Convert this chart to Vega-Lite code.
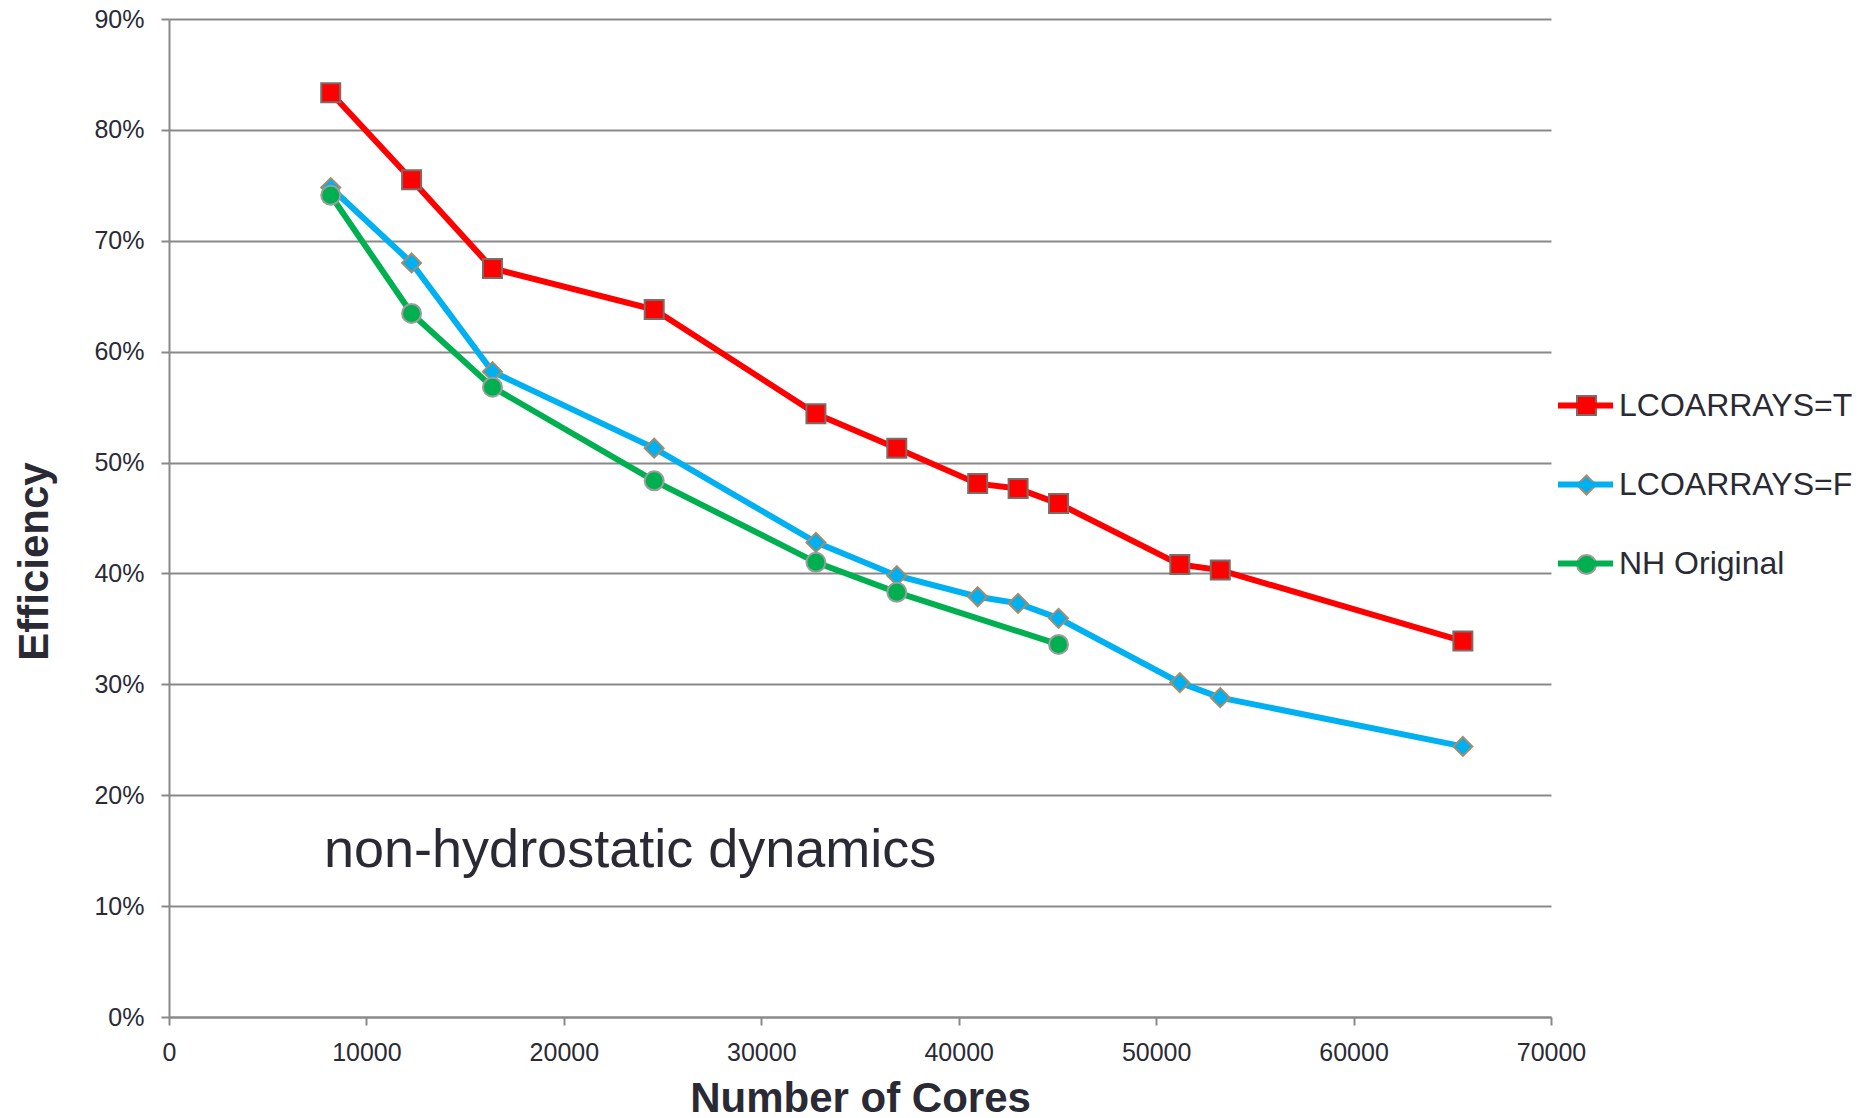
{
  "$schema": "https://vega.github.io/schema/vega-lite/v6.json",
  "width": 1382,
  "height": 998,
  "autosize": {"type": "none"},
  "padding": {"left": 169, "top": 19, "right": 311, "bottom": 101},
  "background": "white",
  "config": {"view": {"stroke": null}, "font": "Liberation Sans"},
  "data": {"values": [
    {"series": "LCOARRAYS=T", "cores": 8192, "eff": 0.8335},
    {"series": "LCOARRAYS=T", "cores": 12288, "eff": 0.755},
    {"series": "LCOARRAYS=T", "cores": 16384, "eff": 0.675},
    {"series": "LCOARRAYS=T", "cores": 24576, "eff": 0.638},
    {"series": "LCOARRAYS=T", "cores": 32768, "eff": 0.544},
    {"series": "LCOARRAYS=T", "cores": 36864, "eff": 0.513},
    {"series": "LCOARRAYS=T", "cores": 40960, "eff": 0.481},
    {"series": "LCOARRAYS=T", "cores": 43008, "eff": 0.4765},
    {"series": "LCOARRAYS=T", "cores": 45056, "eff": 0.463},
    {"series": "LCOARRAYS=T", "cores": 51200, "eff": 0.408},
    {"series": "LCOARRAYS=T", "cores": 53248, "eff": 0.403},
    {"series": "LCOARRAYS=T", "cores": 65536, "eff": 0.339},
    {"series": "LCOARRAYS=F", "cores": 8192, "eff": 0.748},
    {"series": "LCOARRAYS=F", "cores": 12288, "eff": 0.68},
    {"series": "LCOARRAYS=F", "cores": 16384, "eff": 0.582},
    {"series": "LCOARRAYS=F", "cores": 24576, "eff": 0.513},
    {"series": "LCOARRAYS=F", "cores": 32768, "eff": 0.428},
    {"series": "LCOARRAYS=F", "cores": 36864, "eff": 0.398},
    {"series": "LCOARRAYS=F", "cores": 40960, "eff": 0.379},
    {"series": "LCOARRAYS=F", "cores": 43008, "eff": 0.373},
    {"series": "LCOARRAYS=F", "cores": 45056, "eff": 0.3595},
    {"series": "LCOARRAYS=F", "cores": 51200, "eff": 0.3015},
    {"series": "LCOARRAYS=F", "cores": 53248, "eff": 0.288},
    {"series": "LCOARRAYS=F", "cores": 65536, "eff": 0.244},
    {"series": "NH Original", "cores": 8192, "eff": 0.741},
    {"series": "NH Original", "cores": 12288, "eff": 0.6345},
    {"series": "NH Original", "cores": 16384, "eff": 0.568},
    {"series": "NH Original", "cores": 24576, "eff": 0.4835},
    {"series": "NH Original", "cores": 32768, "eff": 0.41},
    {"series": "NH Original", "cores": 36864, "eff": 0.383},
    {"series": "NH Original", "cores": 45056, "eff": 0.336}
  ]},
  "layer": [
    {
      "mark": {"type": "line", "strokeWidth": 6},
      "encoding": {
        "x": {
          "field": "cores", "type": "quantitative",
          "scale": {"domain": [0, 70000], "nice": false},
          "axis": {
            "values": [0, 10000, 20000, 30000, 40000, 50000, 60000, 70000],
            "format": "d", "grid": false,
            "domainColor": "#898989", "domainWidth": 2,
            "tickColor": "#898989", "tickWidth": 2, "tickSize": 8,
            "labelFontSize": 25, "labelColor": "#2a2a35", "labelPadding": 15,
            "labelFont": "Liberation Sans", "labelFlush": false, "labelOverlap": false,
            "title": "Number of Cores", "titleFontSize": 42, "titleFontWeight": "bold",
            "titleColor": "#2a2a35", "titleFont": "Liberation Sans",
            "titleX": 691, "titleY": 94, "titleAlign": "center", "titleBaseline": "alphabetic"
          }
        },
        "y": {
          "field": "eff", "type": "quantitative",
          "scale": {"domain": [0, 0.9], "nice": false},
          "axis": {
            "values": [0, 0.1, 0.2, 0.3, 0.4, 0.5, 0.6, 0.7, 0.8, 0.9],
            "format": ".0%", "grid": true,
            "gridColor": "#898989", "gridWidth": 2,
            "domainColor": "#898989", "domainWidth": 2,
            "tickColor": "#898989", "tickWidth": 2, "tickSize": 8,
            "labelFontSize": 25, "labelColor": "#2a2a35", "labelPadding": 17,
            "labelFont": "Liberation Sans", "labelFlush": false, "labelOverlap": false,
            "title": "Efficiency", "titleFontSize": 42, "titleFontWeight": "bold",
            "titleColor": "#2a2a35", "titleFont": "Liberation Sans",
            "titleAngle": 270, "titleX": -122, "titleY": 542,
            "titleAlign": "center", "titleBaseline": "alphabetic"
          }
        },
        "stroke": {
          "field": "series", "type": "nominal",
          "scale": {"domain": ["LCOARRAYS=T", "LCOARRAYS=F", "NH Original"], "range": ["#ff0000", "#00b0f0", "#00b050"]},
          "legend": {
            "orient": "none", "legendX": 1386, "legendY": 356, "title": null,
            "symbolType": "stroke", "symbolSize": 3025, "symbolStrokeWidth": 6,
            "labelFontSize": 32, "labelColor": "#2a2a35", "labelFont": "Liberation Sans",
            "labelOffset": 3, "labelLimit": 400, "rowPadding": 32, "padding": 0
          }
        }
      }
    },
    {
      "mark": {"type": "point", "filled": true, "opacity": 1, "strokeWidth": 2, "size": 361},
      "encoding": {
        "x": {"field": "cores", "type": "quantitative"},
        "y": {"field": "eff", "type": "quantitative"},
        "fill": {
          "field": "series", "type": "nominal",
          "sort": ["LCOARRAYS=T", "LCOARRAYS=F", "NH Original"],
          "scale": {"range": ["#ff0000", "#00b0f0", "#00b050"]},
          "legend": null
        },
        "shape": {
          "field": "series", "type": "nominal",
          "sort": ["LCOARRAYS=T", "LCOARRAYS=F", "NH Original"],
          "scale": {"range": ["square", "diamond", "circle"]},
          "legend": {
            "orient": "none", "legendX": 1402, "legendY": 371, "title": null,
            "symbolSize": 361, "symbolStrokeWidth": 2,
            "symbolFillColor": {"expr": "datum.value === 'LCOARRAYS=T' ? '#ff0000' : datum.value === 'LCOARRAYS=F' ? '#00b0f0' : '#00b050'"},
            "symbolStrokeColor": {"expr": "datum.value === 'LCOARRAYS=T' ? '#7a6d68' : datum.value === 'LCOARRAYS=F' ? '#a58c6b' : '#9d9d9d'"},
            "symbolOpacity": 1,
            "labelOpacity": 0, "labelFontSize": 31, "labelOffset": 6, "labelLimit": 400,
            "rowPadding": 47.5, "padding": 0
          }
        },
        "stroke": {
          "field": "series", "type": "nominal",
          "sort": ["LCOARRAYS=T", "LCOARRAYS=F", "NH Original"],
          "scale": {"range": ["#7a6d68", "#a58c6b", "#9d9d9d"]},
          "legend": null
        }
      }
    },
    {
      "data": {"values": [{"note": "non-hydrostatic dynamics"}]},
      "mark": {"type": "text", "align": "left", "baseline": "alphabetic", "fontSize": 54, "fill": "#2a2a35", "font": "Liberation Sans"},
      "encoding": {
        "x": {"datum": 7850, "type": "quantitative"},
        "y": {"datum": 0.135, "type": "quantitative"},
        "text": {"field": "note", "type": "nominal"}
      }
    }
  ],
  "resolve": {"scale": {"stroke": "independent"}}
}
